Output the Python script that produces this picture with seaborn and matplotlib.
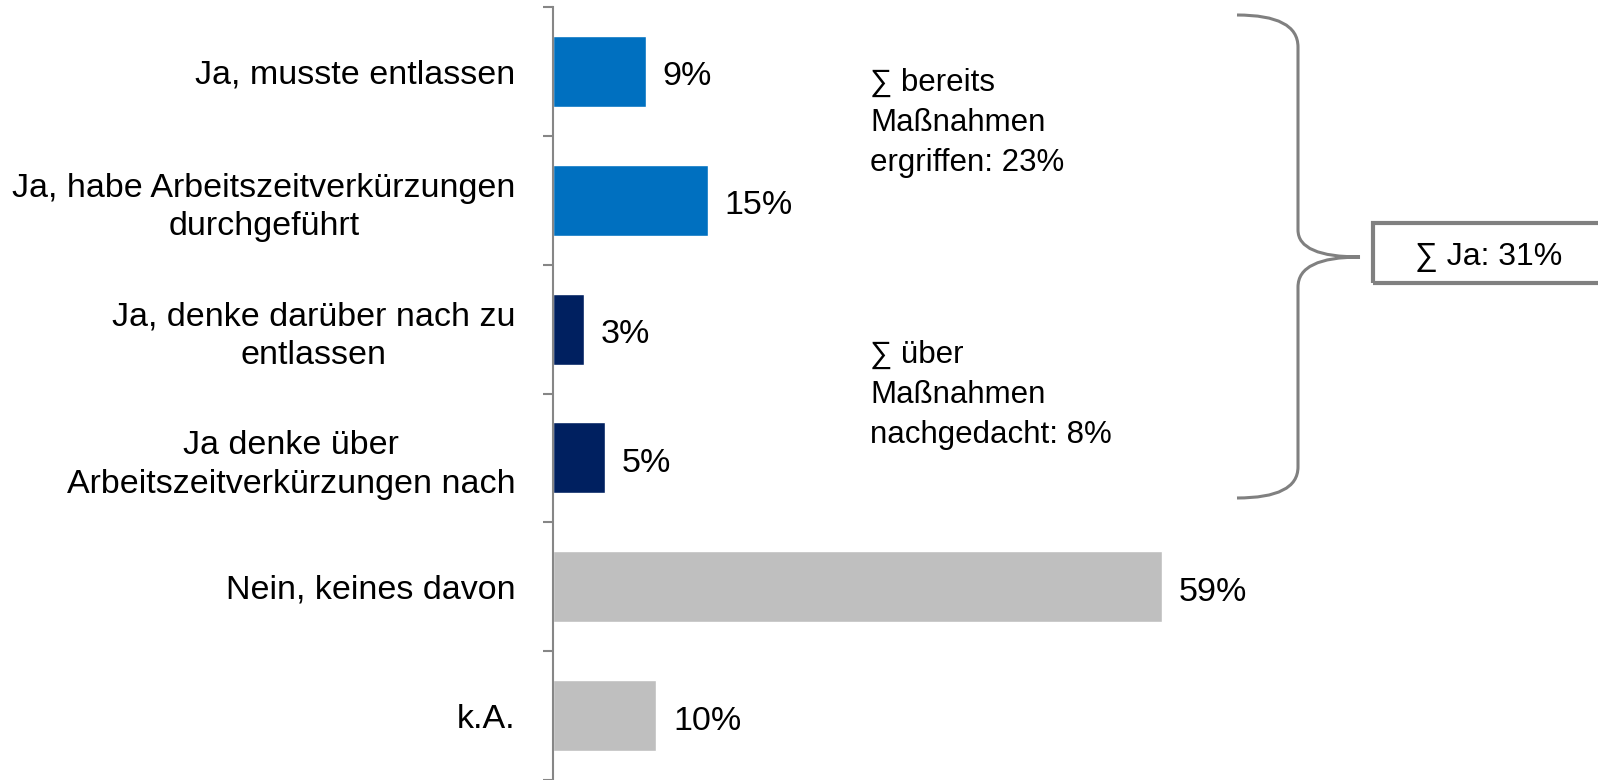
import numpy as np
import matplotlib
matplotlib.use("Agg")
import matplotlib.pyplot as plt
import seaborn as sns
from matplotlib.path import Path
from matplotlib.patches import PathPatch, Rectangle

categories = [
    "Ja, musste entlassen",
    "Ja, habe Arbeitszeitverkürzungen\ndurchgeführt",
    "Ja, denke darüber nach zu\nentlassen",
    "Ja denke über\nArbeitszeitverkürzungen nach",
    "Nein, keines davon",
    "k.A.",
]
values = [9, 15, 3, 5, 59, 10]
bar_colors = ["#0070C0", "#0070C0", "#002060", "#002060", "#BFBFBF", "#BFBFBF"]
note_done = "∑ bereits\nMaßnahmen\nergriffen: 23%"
note_think = "∑ über\nMaßnahmen\nnachgedacht: 8%"
total_label = "∑ Ja: 31%"

sns.set_style("white")
plt.rcParams["font.family"] = ["Liberation Sans", "DejaVu Sans"]
plt.rcParams["text.color"] = "black"
plt.rcParams["ytick.labelcolor"] = "black"

W, H = 1598, 780
fig = plt.figure(figsize=(W / 100, H / 100), dpi=100)
ax_left = 553 / W
ax_top = 7 / H
ax = fig.add_axes([ax_left, 0, 1 - ax_left, 1 - ax_top])

sns.barplot(x=values, y=categories, hue=categories, palette=bar_colors,
            legend=False, width=0.55, saturation=1, ax=ax)

ax.set_xlim(0, (W - 553) / 10.33)
ax.set_ylim(len(categories) - 0.5, -0.5)
ax.set_xlabel("")
ax.set_ylabel("")
ax.set_xticks([])
for s in ["top", "right", "bottom"]:
    ax.spines[s].set_visible(False)
ax.spines["left"].set_color("#868686")
ax.spines["left"].set_linewidth(1.5)

ax.tick_params(axis="y", which="major", length=0, pad=27, labelsize=24.5)
for lab in ax.get_yticklabels():
    lab.set_horizontalalignment("right")
    lab.set_multialignment("center")
    lab.set_linespacing(1.3)
# tick marks sit between the categories
ax.set_yticks(np.arange(-0.5, len(categories), 1.0), minor=True)
ax.tick_params(axis="y", which="minor", left=True, length=7, width=1.5,
               color="#868686")

for cont in ax.containers:
    for t in ax.bar_label(cont, labels=[f"{v:.0f}%" for v in cont.datavalues],
                          padding=12, fontsize=24.5):
        t.xyann = (12, -4)

# side notes
fig.text(870 / W, 1 - 123 / H, note_done, fontsize=22.5, va="center", ha="left",
         linespacing=1.42)
fig.text(870 / W, 1 - 395 / H, note_think, fontsize=22.5, va="center", ha="left",
         linespacing=1.42)

# curly brace, drawn in pixel coordinates of the figure
def px(x, y):
    return (x / W, 1 - y / H)

verts = [px(1237, 15), px(1298, 15), px(1298, 47),
         px(1298, 230),
         px(1298, 257), px(1360, 257),
         px(1298, 257), px(1298, 287),
         px(1298, 467),
         px(1298, 498), px(1237, 498)]
codes = [Path.MOVETO, Path.CURVE3, Path.CURVE3,
         Path.LINETO,
         Path.CURVE3, Path.CURVE3,
         Path.CURVE3, Path.CURVE3,
         Path.LINETO,
         Path.CURVE3, Path.CURVE3]
fig.patches.append(PathPatch(Path(verts, codes), transform=fig.transFigure,
                             fill=False, edgecolor="#808080", lw=2.2))

x0, y0 = px(1373, 283)
fig.patches.append(Rectangle((x0, y0), 300 / W, 60 / H, transform=fig.transFigure,
                             fill=False, edgecolor="#808080", lw=3))
fig.text(1415 / W, 1 - 257 / H, total_label, fontsize=23, va="center", ha="left")

fig.savefig("out.png", dpi=100)
